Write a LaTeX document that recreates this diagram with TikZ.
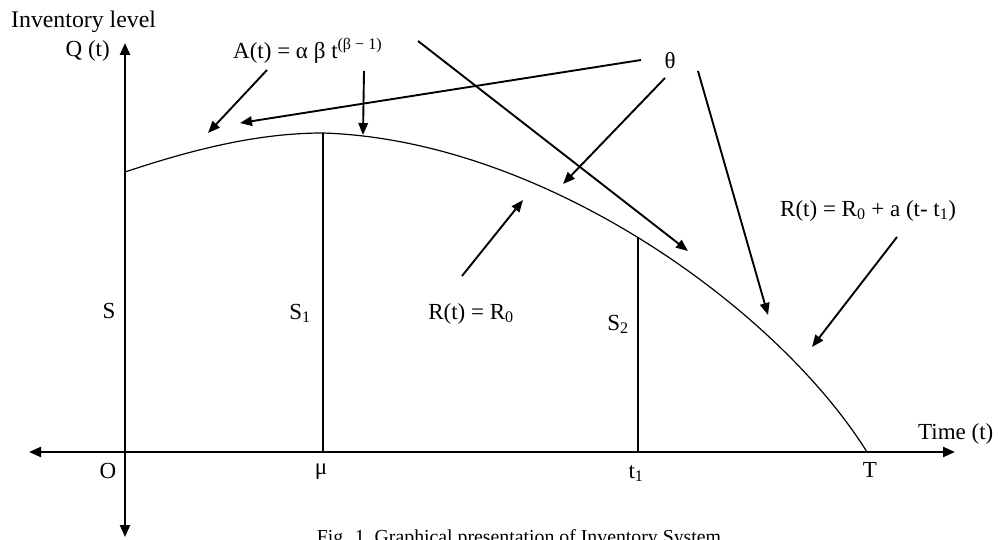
\documentclass[tikz,border=0pt]{standalone}
\usepackage{fontspec}
\setmainfont{Liberation Serif}
\usetikzlibrary{arrows.meta}
\begin{document}
\begin{tikzpicture}[x=1pt,y=-1pt,
  lbl/.style={font=\fontsize{23}{26}\selectfont, inner sep=0pt},
  captext/.style={font=\fontsize{19.8}{22}\selectfont, inner sep=0pt},
  ptr/.style={line width=1.9pt, -{Triangle[length=12pt,width=9.5pt]}},
  axisline/.style={line width=2.3pt, {Triangle[length=12pt,width=10pt]}-{Triangle[length=12pt,width=10pt]}},
  thinline/.style={line width=1.2pt}]
\clip (0,0) rectangle (998,540);
\fill[white] (0,0) rectangle (998,540);
% axes
\coordinate (ytop) at (125,43);
\coordinate (ybot) at (125,537);
\coordinate (xl) at (29,452);
\coordinate (xr) at (955,452);
\draw[axisline] (ytop) -- (ybot);
\draw[axisline] (xl) -- (xr);
% curve
\coordinate (c0) at (125,172);
\coordinate (s1top) at (323,133);
\coordinate (s2top) at (638,238);
\coordinate (cT) at (867,452);
\coordinate (s1bot) at (323,452);
\coordinate (s2bot) at (638,452);
\draw[thinline] (c0) .. controls (191,150) and (257,133) .. (s1top)
  .. controls (543,140) and (777,308) .. (cT);
\draw[thinline] (s1top) -- (s1bot);
\draw[thinline] (s2top) -- (s2bot);
% labels
\node[lbl, anchor=base west, font=\fontsize{23.8}{26}\selectfont] (inv) at (11,28) {Inventory level};
\node[lbl, anchor=base east] (q) at (110,57) {Q (t)};
\node[lbl, anchor=base west] (at) at (233,59) {A(t) = α β t\textsuperscript{(β − 1)}};
\node[lbl, anchor=base] (theta) at (670,69) {θ};
\node[lbl, anchor=base west] (time) at (918,439) {Time (t)};
\node[lbl, anchor=base] (o) at (108,478) {O};
\node[lbl, anchor=base] (mu) at (321,474) {μ};
\node[lbl, anchor=base] (t1) at (636,478) {t\textsubscript{1}};
\node[lbl, anchor=base] (T) at (870,477) {T};
\node[lbl, anchor=base] (S) at (109,318) {S};
\node[lbl, anchor=base] (S1) at (300,319) {S\textsubscript{1}};
\node[lbl, anchor=base] (S2) at (618,330) {S\textsubscript{2}};
\node[lbl, anchor=base] (r0) at (471,319) {R(t) = R\textsubscript{0}};
\node[lbl, anchor=base west] (r1) at (780,216) {R(t) = R\textsubscript{0} + a (t- t\textsubscript{1})};
\node[captext, anchor=base] (caption) at (519,543) {Fig. 1\ \ Graphical presentation of Inventory System};
% pointer arrows
\coordinate (a1s) at (267,70);   \coordinate (a1e) at (208,133);
\coordinate (a2s) at (364,71);   \coordinate (a2e) at (363,135);
\coordinate (a3s) at (418,41);   \coordinate (a3e) at (688,251);
\coordinate (h1s) at (641,60);   \coordinate (h1e) at (240,123);
\coordinate (h2s) at (665,78);   \coordinate (h2e) at (563,184);
\coordinate (h3s) at (698,71);   \coordinate (h3e) at (768,315);
\coordinate (r0s) at (462,276);  \coordinate (r0e) at (523,200);
\coordinate (r1s) at (897,237);  \coordinate (r1e) at (812,347);
\draw[ptr] (a1s) -- (a1e);
\draw[ptr] (a2s) -- (a2e);
\draw[ptr] (a3s) -- (a3e);
\draw[ptr] (h1s) -- (h1e);
\draw[ptr] (h2s) -- (h2e);
\draw[ptr] (h3s) -- (h3e);
\draw[ptr] (r0s) -- (r0e);
\draw[ptr] (r1s) -- (r1e);
\end{tikzpicture}
\end{document}
